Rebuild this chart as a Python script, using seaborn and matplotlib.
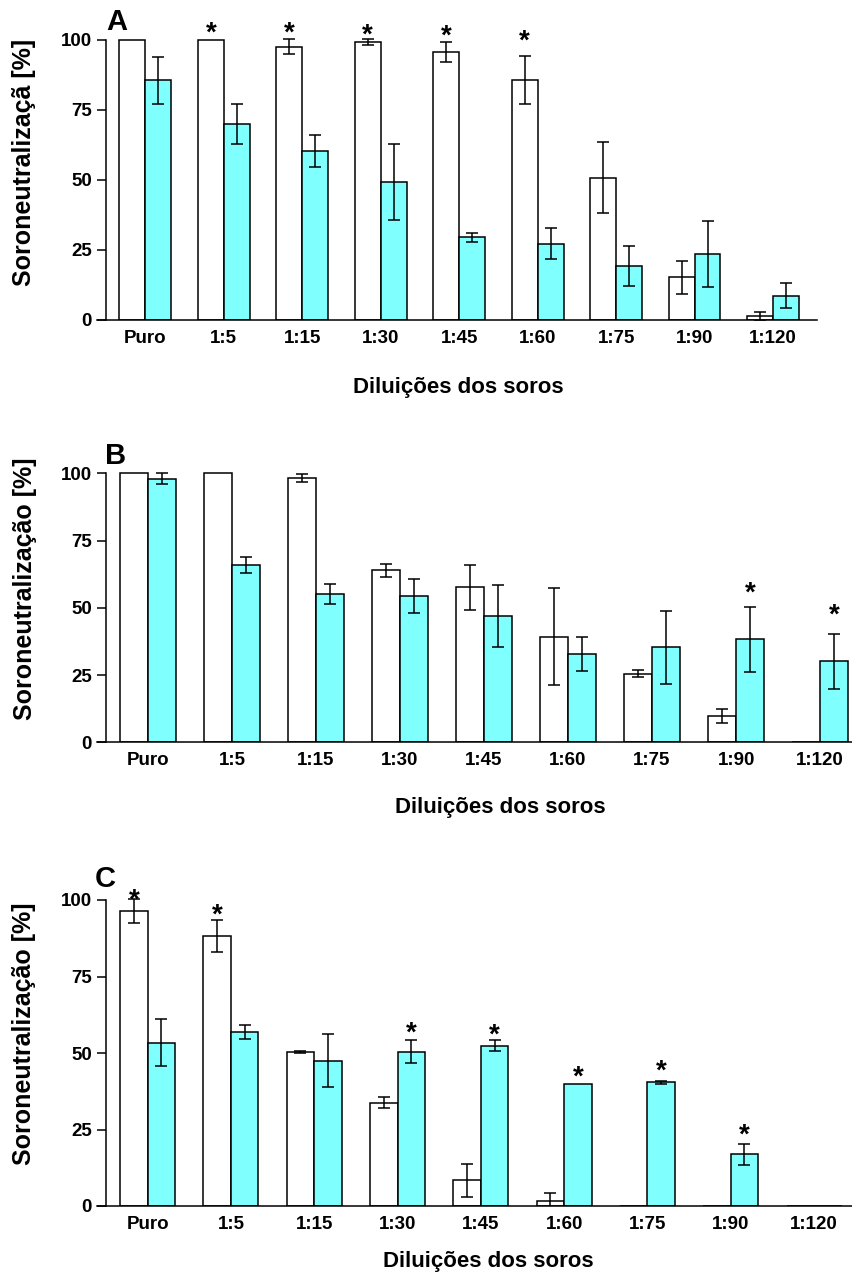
import numpy as np
import pandas as pd
import matplotlib
matplotlib.use("Agg")
import matplotlib.pyplot as plt
import seaborn as sns

# Dilution categories (x axis)
dilutions = ["Puro", "1:5", "1:15", "1:30", "1:45", "1:60", "1:75", "1:90", "1:120"]
groups = ["Grupo 1", "Grupo 2"]

# Panel A: mean and error (white / cyan)
a_g1 = [100, 100, 97.6, 99.2, 95.8, 85.8, 50.8, 15.2, 1.4]
a_g1_err = [0, 0, 2.6, 1.0, 3.6, 8.6, 12.7, 5.8, 1.6]
a_g2 = [85.6, 70.0, 60.5, 49.4, 29.5, 27.3, 19.4, 23.7, 8.7]
a_g2_err = [8.4, 7.0, 5.7, 13.6, 1.7, 5.5, 7.2, 11.8, 4.5]
a_stars = [("1:5", "Grupo 1", 105.4), ("1:15", "Grupo 1", 105.4), ("1:30", "Grupo 1", 104.8),
           ("1:45", "Grupo 1", 104.4), ("1:60", "Grupo 1", 102.7)]

# Panel B
b_g1 = [100, 100, 98.4, 63.9, 57.6, 39.3, 25.5, 9.7, 0]
b_g1_err = [0, 0, 1.5, 2.4, 8.4, 18.1, 1.3, 2.5, 0]
b_g2 = [98.0, 66.0, 55.1, 54.5, 47.0, 32.8, 35.3, 38.3, 30.1]
b_g2_err = [2.0, 3.0, 3.6, 6.3, 11.6, 6.3, 13.5, 12.1, 10.3]
b_stars = [("1:90", "Grupo 2", 58.5), ("1:120", "Grupo 2", 50.4)]

# Panel C
c_g1 = [96.4, 88.3, 50.2, 33.8, 8.4, 1.7, 0, 0, 0]
c_g1_err = [3.9, 5.3, 0.3, 1.9, 5.4, 2.4, 0, 0, 0]
c_g2 = [53.3, 56.8, 47.5, 50.4, 52.4, 39.9, 40.4, 16.9, 0]
c_g2_err = [7.7, 2.2, 8.6, 3.7, 1.7, 0, 0.5, 3.5, 0]
c_stars = [("Puro", "Grupo 1", 102.7), ("1:5", "Grupo 1", 97.8), ("1:30", "Grupo 2", 59.4),
           ("1:45", "Grupo 2", 58.6), ("1:60", "Grupo 2", 45.0), ("1:75", "Grupo 2", 46.7),
           ("1:90", "Grupo 2", 25.9)]

ylabels = ["Soroneutralizaçã [%]", "Soroneutralização [%]", "Soroneutralização [%]"]
xlabel = "Diluições dos soros"
letters = ["A", "B", "C"]

sns.set_style("ticks")
plt.rcParams["font.family"] = ["Liberation Sans", "DejaVu Sans"]
plt.rcParams["font.weight"] = "bold"
plt.rcParams["text.color"] = "black"
plt.rcParams["axes.labelcolor"] = "black"
plt.rcParams["xtick.color"] = "black"
plt.rcParams["ytick.color"] = "black"

W, H = 853, 1276
fig = plt.figure(figsize=(W / 100, H / 100), dpi=100)

palette = {"Grupo 1": "white", "Grupo 2": "#80FFFF"}

# layout in pixels: left, right, bottom(y=0), px per unit, xlim
panels = [
    dict(g1=a_g1, e1=a_g1_err, g2=a_g2, e2=a_g2_err, stars=a_stars,
         left=97, right=817, base=320, scale=2.8, xlim=(-0.615, 8.56),
         letter_xy=(117, 30), xlab_xy=(458, 388), ylab_xy=(24, 162)),
    dict(g1=b_g1, e1=b_g1_err, g2=b_g2, e2=b_g2_err, stars=b_stars,
         left=97, right=852, base=742.3, scale=2.69, xlim=(-0.607, 8.38),
         letter_xy=(116, 464), xlab_xy=(500, 808), ylab_xy=(25, 589)),
    dict(g1=c_g1, e1=c_g1_err, g2=c_g2, e2=c_g2_err, stars=c_stars,
         left=97, right=852, base=1206, scale=3.06, xlim=(-0.608, 8.456),
         letter_xy=(105, 887), xlab_xy=(488, 1262), ylab_xy=(24, 1034)),
]

ytop = 110
for k, p in enumerate(panels):
    height_px = ytop * p["scale"]
    ax = fig.add_axes([p["left"] / W, 1 - p["base"] / H,
                       (p["right"] - p["left"]) / W, height_px / H])
    df = pd.DataFrame({
        "diluicao": dilutions * 2,
        "grupo": [groups[0]] * len(dilutions) + [groups[1]] * len(dilutions),
        "valor": p["g1"] + p["g2"],
    })
    sns.barplot(data=df, x="diluicao", y="valor", hue="grupo", order=dilutions,
                hue_order=groups, palette=palette, saturation=1, errorbar=None,
                width=0.66, edgecolor="black", linewidth=1.1, legend=False, ax=ax)

    centers = {}
    for cont, g, vals, errs in zip(ax.containers, groups, [p["g1"], p["g2"]], [p["e1"], p["e2"]]):
        xs = [b.get_x() + b.get_width() / 2 for b in cont]
        for d, x in zip(dilutions, xs):
            centers[(d, g)] = x
        xs = np.array(xs)
        vals = np.array(vals, dtype=float)
        errs = np.array(errs, dtype=float)
        m = errs > 0
        ax.errorbar(xs[m], vals[m], yerr=errs[m], fmt="none", ecolor="black",
                    elinewidth=1.1, capsize=4.3, capthick=1.1, zorder=5)

    for d, g, y in p["stars"]:
        ax.annotate("*", xy=(centers[(d, g)], y), xytext=(0, -11.5),
                    textcoords="offset points", ha="center", va="baseline",
                    fontsize=20, fontweight="bold", color="black", annotation_clip=False)

    ax.set_xlim(*p["xlim"])
    ax.set_ylim(0, ytop)
    ax.set_yticks([0, 25, 50, 75, 100])
    ax.spines["left"].set_position(("data", -0.5))
    ax.spines["left"].set_bounds(0, 100)
    for s in ["left", "bottom"]:
        ax.spines[s].set_linewidth(1.1)
        ax.spines[s].set_color("black")
    sns.despine(ax=ax)
    ax.tick_params(axis="y", length=6.5, width=1.1, pad=3.6, labelsize=13.5, colors="black")
    ax.tick_params(axis="x", length=0, pad=7, labelsize=13.5, colors="black")
    for lab in ax.get_xticklabels() + ax.get_yticklabels():
        lab.set_fontweight("bold")
    ax.set_xlabel("")
    ax.set_ylabel("")
    ax.patch.set_alpha(0)

    lx, ly = p["letter_xy"]
    fig.text(lx / W, 1 - ly / H, letters[k], ha="center", va="baseline",
             fontsize=21, fontweight="bold", color="black")
    xx, xy = p["xlab_xy"]
    fig.text(xx / W, 1 - xy / H, xlabel, ha="center", va="center",
             fontsize=16, fontweight="bold", color="black")
    yx, yy = p["ylab_xy"]
    fig.text(yx / W, 1 - yy / H, ylabels[k], ha="center", va="center",
             rotation=90, fontsize=18, fontweight="bold", color="black")

fig.savefig("out.png", dpi=100)
